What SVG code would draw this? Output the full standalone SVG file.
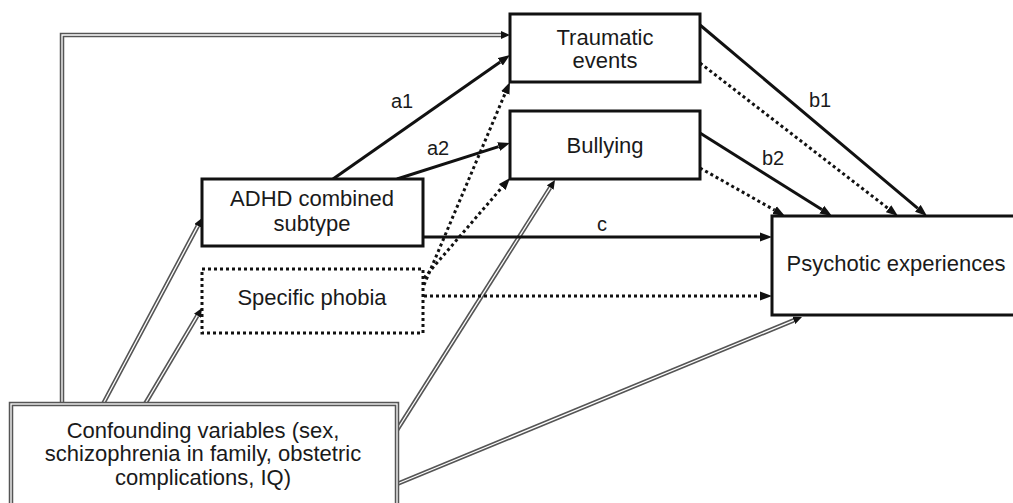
<svg xmlns="http://www.w3.org/2000/svg" width="1013" height="503" viewBox="0 0 1013 503">
<defs>
<style>
.box{fill:#fff;stroke:#111;stroke-width:3}
.dbox{fill:#fff;stroke:#111;stroke-width:3;stroke-dasharray:3 3}
.t{font-family:"Liberation Sans",Arial,sans-serif;font-size:22px;fill:#1a1a1a;text-anchor:middle}
.lbl{font-family:"Liberation Sans",Arial,sans-serif;font-size:20px;fill:#1a1a1a;text-anchor:middle}
.solid{fill:none;stroke:#111;stroke-width:3}
.dot{fill:none;stroke:#111;stroke-width:3;stroke-dasharray:3 3}
.dout{fill:none;stroke:#555;stroke-width:4.5}
.din{fill:none;stroke:#fff;stroke-width:1.3}
</style>
<marker id="ah" markerUnits="userSpaceOnUse" viewBox="0 -5 12 10" refX="0" refY="0" markerWidth="12" markerHeight="10" orient="auto">
<path d="M0,-4.5 L12,0 L0,4.5 z" fill="#111"/>
</marker>
<marker id="ahs" markerUnits="userSpaceOnUse" viewBox="0 -4 9 8" refX="0" refY="0" markerWidth="9" markerHeight="8" orient="auto">
<path d="M0,-4 L9,0 L0,4 z" fill="#111"/>
</marker>
</defs>
<rect width="1013" height="503" fill="#fff"/>

<g id="connectors">
<polyline class="dout" points="62,405 62,35 501,35" marker-end="url(#ahs)"/>
<polyline class="din" points="62,405 62,35 501,35"/>
<line class="dout" x1="103" y1="404" x2="197.8" y2="225.9" marker-end="url(#ahs)"/>
<line class="din" x1="103" y1="404" x2="197.8" y2="225.9"/>
<line class="dout" x1="145" y1="404" x2="197.4" y2="315.7" marker-end="url(#ahs)"/>
<line class="din" x1="145" y1="404" x2="197.4" y2="315.7"/>
<line class="dout" x1="397" y1="430" x2="550.2" y2="187.6" marker-end="url(#ahs)"/>
<line class="din" x1="397" y1="430" x2="550.2" y2="187.6"/>
<line class="dout" x1="397" y1="484" x2="793.7" y2="320.4" marker-end="url(#ahs)"/>
<line class="din" x1="397" y1="484" x2="793.7" y2="320.4"/>
<line class="solid" x1="333" y1="179" x2="500.2" y2="61.9" marker-end="url(#ah)"/>
<line class="solid" x1="397" y1="179" x2="498.6" y2="146.6" marker-end="url(#ah)"/>
<line class="solid" x1="423" y1="237" x2="760" y2="237" marker-end="url(#ah)"/>
<line class="solid" x1="700" y1="25" x2="917.8" y2="208.3" marker-end="url(#ah)"/>
<line class="solid" x1="700" y1="133" x2="821.8" y2="209.6" marker-end="url(#ah)"/>
<line class="dot" x1="700" y1="63" x2="888.5" y2="208.7" marker-end="url(#ah)"/>
<line class="dot" x1="700" y1="168" x2="774.5" y2="210.1" marker-end="url(#ah)"/>
<line class="dot" x1="424" y1="296" x2="760" y2="296" marker-end="url(#ah)"/>
<line class="dot" x1="424" y1="285" x2="505.3" y2="93" marker-end="url(#ah)"/>
<line class="dot" x1="424" y1="278" x2="502.2" y2="187.1" marker-end="url(#ah)"/>
<text class="lbl" x="402" y="108">a1</text>
<text class="lbl" x="438" y="155">a2</text>
<text class="lbl" x="820" y="107">b1</text>
<text class="lbl" x="773" y="165">b2</text>
<text class="lbl" x="602" y="231">c</text>
</g>

<g id="traumatic">
<rect class="box" x="510" y="14" width="190" height="68"/>
<text class="t" x="605" y="45">Traumatic</text>
<text class="t" x="605" y="68">events</text>
</g>

<g id="bullying">
<rect class="box" x="510" y="111" width="190" height="68"/>
<text class="t" x="605" y="153">Bullying</text>
</g>

<g id="adhd">
<rect class="box" x="202" y="179" width="221" height="67"/>
<text class="t" x="312" y="206">ADHD combined</text>
<text class="t" x="312" y="231">subtype</text>
</g>

<g id="phobia">
<rect class="dbox" x="202" y="269" width="221" height="64"/>
<text class="t" x="312" y="305">Specific phobia</text>
</g>

<g id="psychotic">
<rect class="box" x="772" y="216" width="245" height="99"/>
<text class="t" x="896" y="271">Psychotic experiences</text>
</g>

<g id="confounding">
<rect x="11" y="404" width="386" height="104" fill="#fff" stroke="#555" stroke-width="4.5"/>
<rect x="11" y="404" width="386" height="104" fill="none" stroke="#fff" stroke-width="1.3"/>
<text class="t" x="203" y="438">Confounding variables (sex,</text>
<text class="t" x="203" y="461">schizophrenia in family, obstetric</text>
<text class="t" x="203" y="485">complications, IQ)</text>
</g>
</svg>
